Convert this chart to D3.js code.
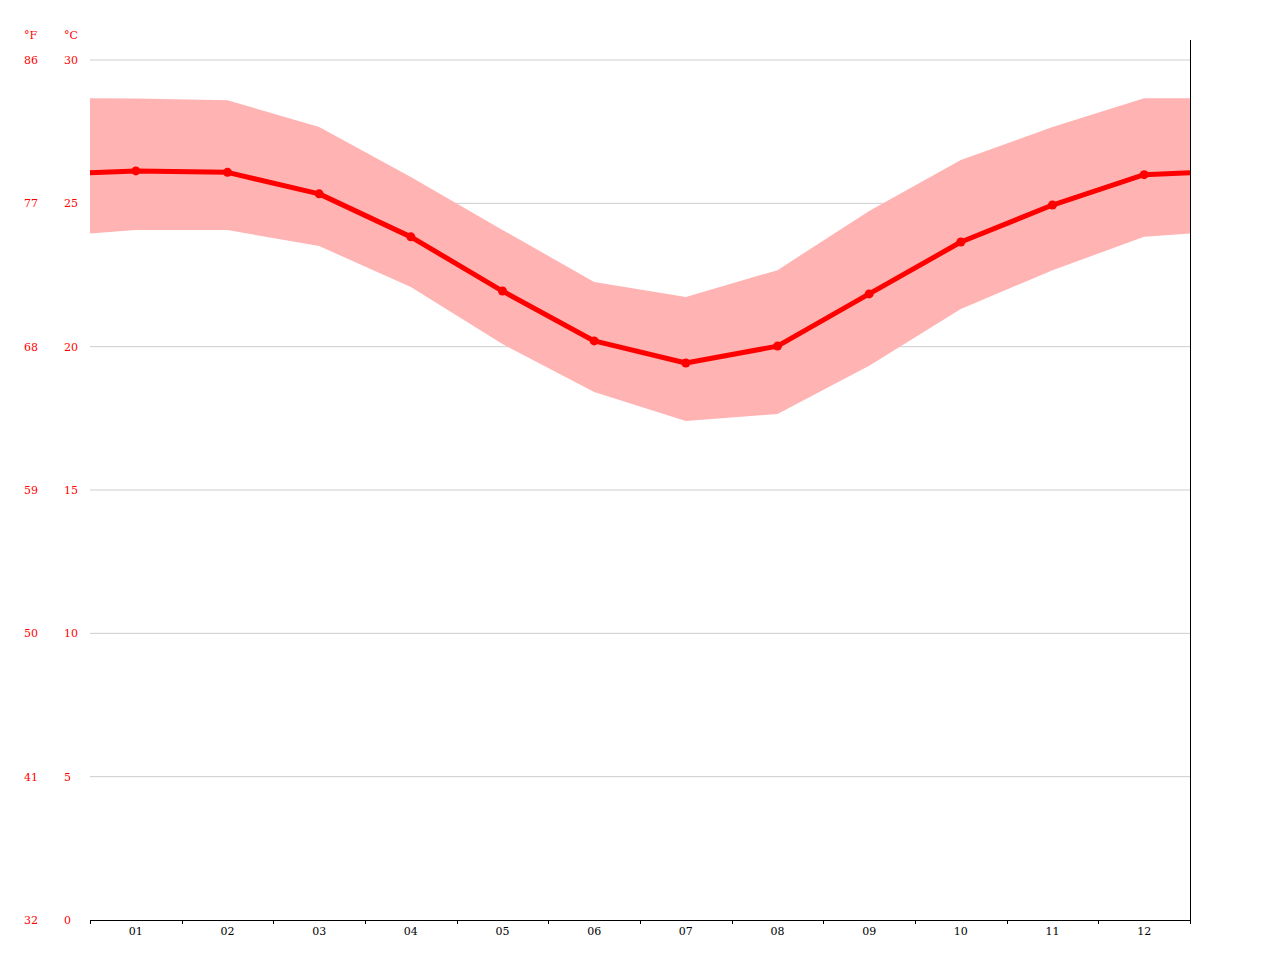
<!DOCTYPE html>
<html>
<head>
<meta charset="utf-8">
<script src="https://cdn.jsdelivr.net/npm/d3@7"></script>
<style>
  body { margin: 0; background: #fff; }
  svg text { font-family: "DejaVu Serif", serif; font-size: 11px; }
</style>
</head>
<body>
<div id="chart"></div>
<script>
'use strict';

// monthly temperatures (°C)
var months = ["01","02","03","04","05","06","07","08","09","10","11","12"];
var tMean = [26.13, 26.08, 25.33, 23.83, 21.94, 20.2, 19.43, 20.02, 21.84, 23.65, 24.94, 26.0];
var tMax  = [28.66, 28.6, 27.66, 25.92, 24.07, 22.26, 21.73, 22.67, 24.73, 26.51, 27.66, 28.67];
var tMin  = [24.07, 24.07, 23.51, 22.08, 20.09, 18.42, 17.41, 17.65, 19.33, 21.31, 22.67, 23.83];
var cTicks = [0, 5, 10, 15, 20, 25, 30];

var width = 1280, height = 960;
var x0 = 90, x1 = 1190, yTop = 60, yBot = 920;

var svg = d3.select("#chart").append("svg")
    .attr("width", width)
    .attr("height", height);

var x = d3.scaleLinear().domain([0, 12]).range([x0, x1]);
var y = d3.scaleLinear().domain([0, 30]).range([yBot, yTop]);

// gridlines
svg.append("g")
  .selectAll("line")
  .data(cTicks.filter(d => d > 0))
  .join("line")
    .attr("x1", x0).attr("x2", x1)
    .attr("y1", d => y(d)).attr("y2", d => y(d))
    .attr("stroke", "#ccc")
    .attr("stroke-width", 1);

// points at month centres, plus the edges (average of Dec/Jan, wrapping round)
function withEdges(arr) {
  var edge = (arr[0] + arr[11]) / 2;
  var pts = [[0, edge]];
  arr.forEach((v, i) => pts.push([i + 0.5, v]));
  pts.push([12, edge]);
  return pts;
}

var maxPts = withEdges(tMax), minPts = withEdges(tMin), meanPts = withEdges(tMean);

var area = d3.area()
    .x((d, i) => x(maxPts[i][0]))
    .y0((d, i) => y(minPts[i][1]))
    .y1((d, i) => y(maxPts[i][1]));

svg.append("path")
    .datum(maxPts)
    .attr("d", area)
    .attr("fill", "#ffb3b3");

var line = d3.line()
    .x(d => x(d[0]))
    .y(d => y(d[1]));

svg.append("path")
    .datum(meanPts)
    .attr("d", line)
    .attr("fill", "none")
    .attr("stroke", "#ff0000")
    .attr("stroke-width", 5)
    .attr("stroke-linejoin", "round");

svg.append("g")
  .selectAll("circle")
  .data(tMean)
  .join("circle")
    .attr("cx", (d, i) => x(i + 0.5))
    .attr("cy", d => y(d))
    .attr("r", 4.5)
    .attr("fill", "#ff0000");

// bottom axis
var axis = svg.append("g");
axis.append("line")
    .attr("x1", x0).attr("x2", x1)
    .attr("y1", yBot + 0.5).attr("y2", yBot + 0.5)
    .attr("stroke", "#000");
axis.selectAll("line.tick")
  .data(d3.range(0, 13))
  .join("line")
    .attr("class", "tick")
    .attr("x1", d => Math.round(x(d)) + 0.5).attr("x2", d => Math.round(x(d)) + 0.5)
    .attr("y1", yBot).attr("y2", yBot + 4)
    .attr("stroke", "#000");
axis.selectAll("text")
  .data(months)
  .join("text")
    .attr("x", (d, i) => x(i + 0.5))
    .attr("y", yBot + 15)
    .attr("text-anchor", "middle")
    .attr("fill", "#000")
    .text(d => d);

// right vertical line
svg.append("line")
    .attr("x1", x1 + 0.5).attr("x2", x1 + 0.5)
    .attr("y1", 40).attr("y2", yBot + 4)
    .attr("stroke", "#000");

// y labels
var yl = svg.append("g").attr("fill", "#ff0000");
yl.append("text").attr("x", 24).attr("y", 39).text("°F");
yl.append("text").attr("x", 64).attr("y", 39).text("°C");
yl.selectAll("text.c")
  .data(cTicks)
  .join("text")
    .attr("class", "c")
    .attr("x", 64)
    .attr("y", d => y(d) + 4)
    .text(d => d);
yl.selectAll("text.f")
  .data(cTicks)
  .join("text")
    .attr("class", "f")
    .attr("x", 24)
    .attr("y", d => y(d) + 4)
    .text(d => Math.round(d * 9 / 5 + 32));
</script>
</body>
</html>
